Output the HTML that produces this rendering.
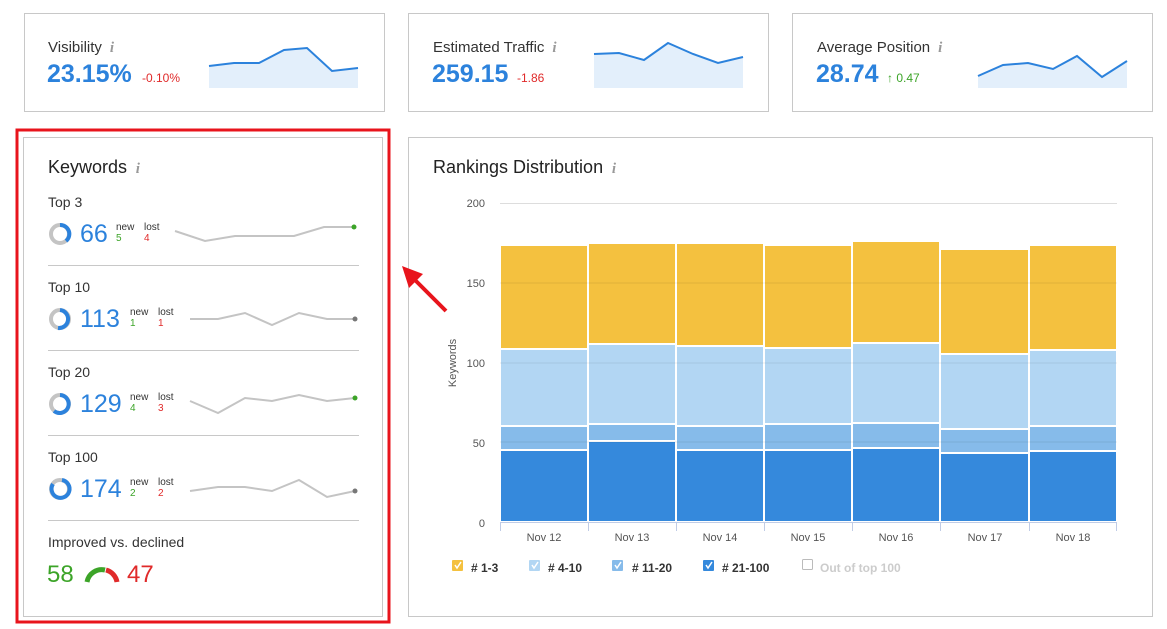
<!DOCTYPE html>
<html><head><meta charset="utf-8"><style>
body{margin:0;width:1167px;height:629px;background:#fff;font-family:"Liberation Sans",sans-serif;position:relative;overflow:hidden;color:#333}
.card{position:absolute;border:1px solid #c8c8c8;background:#fff;box-sizing:border-box}
.abs{position:absolute;white-space:nowrap}
.i{color:#999;font-style:italic;font-family:"Liberation Serif",serif;font-weight:bold;font-size:15px}
</style></head><body>

<div class="card" style="left:24px;top:13px;width:361px;height:99px"></div>
<div class="card" style="left:408px;top:13px;width:361px;height:99px"></div>
<div class="card" style="left:792px;top:13px;width:361px;height:99px"></div>

<div class="abs" style="left:48px;top:39px;font-size:15px">Visibility <span class="i">&nbsp;i</span></div>
<div class="abs" style="left:47px;top:60px;font-size:25px;font-weight:bold;color:#2c82dc">23.15%</div>
<div class="abs" style="left:142px;top:71px;font-size:12px;color:#e02a2a">-0.10%</div>
<div class="abs" style="left:433px;top:39px;font-size:15px">Estimated Traffic <span class="i">&nbsp;i</span></div>
<div class="abs" style="left:432px;top:60px;font-size:25px;font-weight:bold;color:#2c82dc">259.15</div>
<div class="abs" style="left:517px;top:71px;font-size:12px;color:#e02a2a">-1.86</div>
<div class="abs" style="left:817px;top:39px;font-size:15px">Average Position <span class="i">&nbsp;i</span></div>
<div class="abs" style="left:816px;top:60px;font-size:25px;font-weight:bold;color:#2c82dc">28.74</div>
<div class="abs" style="left:887px;top:71px;font-size:12px;color:#3ca428">↑ 0.47</div>

<svg class="abs" style="left:0;top:0" width="1167" height="629">
<g fill="#e3effb" stroke="none">
<path d="M209,66 L234,63 L259,63 L284,50 L307,48 L332,71 L358,68 L358,88 L209,88Z"/>
<path d="M594,54 L619,53 L644,60 L668,43 L693,54 L718,63 L743,57 L743,88 L594,88Z"/>
<path d="M978,76 L1003,65 L1028,63 L1053,69 L1077,56 L1102,77 L1127,61 L1127,88 L978,88Z"/>
</g>
<g fill="none" stroke="#2c82dc" stroke-width="2">
<path d="M209,66 L234,63 L259,63 L284,50 L307,48 L332,71 L358,68"/>
<path d="M594,54 L619,53 L644,60 L668,43 L693,54 L718,63 L743,57"/>
<path d="M978,76 L1003,65 L1028,63 L1053,69 L1077,56 L1102,77 L1127,61"/>
</g>

<rect x="17" y="130" width="372" height="492" fill="none" stroke="#e8141c" stroke-width="3"/>
<rect x="23.5" y="137.5" width="359" height="479" fill="none" stroke="#c8c8c8"/>
<rect x="408.5" y="137.5" width="744" height="479" fill="none" stroke="#c8c8c8"/>

<!-- arrow -->
<line x1="446" y1="311" x2="415" y2="280" stroke="#e8141c" stroke-width="4"/>
<polygon points="402,266 423,274 409,288" fill="#e8141c"/>

<!-- keywords separators -->
<g stroke="#c8c8c8"><line x1="48" y1="265.5" x2="359" y2="265.5"/><line x1="48" y1="350.5" x2="359" y2="350.5"/><line x1="48" y1="435.5" x2="359" y2="435.5"/><line x1="48" y1="520.5" x2="359" y2="520.5"/></g>

<!-- donuts -->
<g fill="none" stroke-width="4">
<circle cx="60" cy="234" r="9" stroke="#c4c4c4"/><path d="M60,225 A9,9 0 0 1 66,241" stroke="#2c82dc"/>
<circle cx="60" cy="319" r="9" stroke="#c4c4c4"/><path d="M60,310 A9,9 0 1 1 58,328" stroke="#2c82dc"/>
<circle cx="60" cy="404" r="9" stroke="#c4c4c4"/><path d="M60,395 A9,9 0 1 1 54,411" stroke="#2c82dc"/>
<circle cx="60" cy="489" r="9" stroke="#c4c4c4"/><path d="M62,480 A9,9 0 1 1 53,484" stroke="#2c82dc"/>
<path d="M87,582 A15,15 0 0 1 105,570" stroke="#3ca428" stroke-width="5"/>
<path d="M106,570 A15,15 0 0 1 117,582" stroke="#e02a2a" stroke-width="5"/>
</g>
<!-- mini lines -->
<g fill="none" stroke="#c4c4c4" stroke-width="2">
<path d="M175,231 L205,241 L235,236 L264,236 L294,236 L324,227 L354,227"/>
<path d="M190,319 L218,319 L245,313 L272,325 L299,313 L327,319 L355,319"/>
<path d="M190,401 L218,413 L245,398 L272,401 L299,395 L327,401 L355,398"/>
<path d="M190,491 L218,487 L245,487 L272,491 L299,480 L327,497 L355,491"/>
</g>
<circle cx="354" cy="227" r="2.5" fill="#3ca428"/>
<circle cx="355" cy="319" r="2.5" fill="#777"/>
<circle cx="355" cy="398" r="2.5" fill="#3ca428"/>
<circle cx="355" cy="491" r="2.5" fill="#777"/>

<!-- chart -->
<line x1="500" y1="203.5" x2="1117" y2="203.5" stroke="#ddd"/>
<g stroke="#fff" stroke-width="2">
<g fill="#f4c13f"><rect x="500" y="245" width="88" height="104"/><rect x="588" y="243" width="88" height="101"/><rect x="676" y="243" width="88" height="103"/><rect x="764" y="245" width="88" height="103"/><rect x="852" y="241" width="88" height="102"/><rect x="940" y="249" width="89" height="105"/><rect x="1029" y="245" width="88" height="105"/></g>
<g fill="#b2d6f3"><rect x="500" y="349" width="88" height="77"/><rect x="588" y="344" width="88" height="80"/><rect x="676" y="346" width="88" height="80"/><rect x="764" y="348" width="88" height="76"/><rect x="852" y="343" width="88" height="80"/><rect x="940" y="354" width="89" height="75"/><rect x="1029" y="350" width="88" height="76"/></g>
<g fill="#86bbea"><rect x="500" y="426" width="88" height="24"/><rect x="588" y="424" width="88" height="17"/><rect x="676" y="426" width="88" height="24"/><rect x="764" y="424" width="88" height="26"/><rect x="852" y="423" width="88" height="25"/><rect x="940" y="429" width="89" height="24"/><rect x="1029" y="426" width="88" height="25"/></g>
<g fill="#3589dc"><rect x="500" y="450" width="88" height="72"/><rect x="588" y="441" width="88" height="81"/><rect x="676" y="450" width="88" height="72"/><rect x="764" y="450" width="88" height="72"/><rect x="852" y="448" width="88" height="74"/><rect x="940" y="453" width="89" height="69"/><rect x="1029" y="451" width="88" height="71"/></g>
</g>
<g stroke="#000" stroke-opacity="0.08"><line x1="500" y1="283" x2="1117" y2="283"/><line x1="500" y1="363" x2="1117" y2="363"/><line x1="500" y1="442" x2="1117" y2="442"/></g>
<g stroke="#c0cce6"><line x1="500" y1="522.5" x2="1117" y2="522.5"/>
<line x1="500.5" y1="522" x2="500.5" y2="531"/><line x1="588.5" y1="522" x2="588.5" y2="531"/><line x1="676.5" y1="522" x2="676.5" y2="531"/><line x1="764.5" y1="522" x2="764.5" y2="531"/><line x1="852.5" y1="522" x2="852.5" y2="531"/><line x1="940.5" y1="522" x2="940.5" y2="531"/><line x1="1029.5" y1="522" x2="1029.5" y2="531"/><line x1="1116.5" y1="522" x2="1116.5" y2="531"/></g>
<g font-size="11" fill="#555" text-anchor="end" font-family="Liberation Sans,sans-serif">
<text x="485" y="207">200</text><text x="485" y="287">150</text><text x="485" y="367">100</text><text x="485" y="447">50</text><text x="485" y="527">0</text></g>
<g font-size="11" fill="#555" text-anchor="middle" font-family="Liberation Sans,sans-serif">
<text x="544" y="541">Nov 12</text><text x="632" y="541">Nov 13</text><text x="720" y="541">Nov 14</text><text x="808" y="541">Nov 15</text><text x="896" y="541">Nov 16</text><text x="985" y="541">Nov 17</text><text x="1073" y="541">Nov 18</text></g>
<text transform="translate(456,363) rotate(-90)" font-size="11" fill="#555" text-anchor="middle" font-family="Liberation Sans,sans-serif">Keywords</text>
<!-- legend -->
<g font-size="12" font-weight="bold" fill="#333" font-family="Liberation Sans,sans-serif">
<rect x="452" y="560" width="11" height="11" rx="1" fill="#f4c13f"/><text x="471" y="572">#  1-3</text>
<rect x="529" y="560" width="11" height="11" rx="1" fill="#b2d6f3"/><text x="548" y="572"># 4-10</text>
<rect x="612" y="560" width="11" height="11" rx="1" fill="#86bbea"/><text x="632" y="572"># 11-20</text>
<rect x="703" y="560" width="11" height="11" rx="1" fill="#3589dc"/><text x="722" y="572"># 21-100</text>
<rect x="802.5" y="559.5" width="10" height="10" rx="1" fill="none" stroke="#bbb"/><text x="820" y="572" fill="#ccc">Out of top 100</text>
</g>
<g fill="none" stroke="#fff" stroke-width="1.5"><path d="M455,565 L457,568 L461,562"/><path d="M532,565 L534,568 L538,562"/><path d="M615,565 L617,568 L621,562"/><path d="M706,565 L708,568 L712,562"/></g>
</svg>

<div class="abs" style="left:48px;top:157px;font-size:18px;color:#222">Keywords <span class="i">&nbsp;i</span></div>
<div class="abs" style="left:433px;top:157px;font-size:18px;color:#222">Rankings Distribution <span class="i">&nbsp;i</span></div>

<div class="abs" style="left:48px;top:194px;font-size:14px">Top 3</div>
<div class="abs" style="left:80px;top:220px;font-size:25px;color:#2c82dc">66</div>
<div class="abs" style="left:116px;top:222px;font-size:10px;line-height:11px">new<br><span style="color:#3ca428">5</span></div>
<div class="abs" style="left:144px;top:222px;font-size:10px;line-height:11px">lost<br><span style="color:#e02a2a">4</span></div>

<div class="abs" style="left:48px;top:279px;font-size:14px">Top 10</div>
<div class="abs" style="left:80px;top:305px;font-size:25px;color:#2c82dc">113</div>
<div class="abs" style="left:130px;top:307px;font-size:10px;line-height:11px">new<br><span style="color:#3ca428">1</span></div>
<div class="abs" style="left:158px;top:307px;font-size:10px;line-height:11px">lost<br><span style="color:#e02a2a">1</span></div>

<div class="abs" style="left:48px;top:364px;font-size:14px">Top 20</div>
<div class="abs" style="left:80px;top:390px;font-size:25px;color:#2c82dc">129</div>
<div class="abs" style="left:130px;top:392px;font-size:10px;line-height:11px">new<br><span style="color:#3ca428">4</span></div>
<div class="abs" style="left:158px;top:392px;font-size:10px;line-height:11px">lost<br><span style="color:#e02a2a">3</span></div>

<div class="abs" style="left:48px;top:449px;font-size:14px">Top 100</div>
<div class="abs" style="left:80px;top:475px;font-size:25px;color:#2c82dc">174</div>
<div class="abs" style="left:130px;top:477px;font-size:10px;line-height:11px">new<br><span style="color:#3ca428">2</span></div>
<div class="abs" style="left:158px;top:477px;font-size:10px;line-height:11px">lost<br><span style="color:#e02a2a">2</span></div>

<div class="abs" style="left:48px;top:534px;font-size:14px">Improved vs. declined</div>
<div class="abs" style="left:47px;top:561px;font-size:24px;color:#3ca428">58</div>
<div class="abs" style="left:127px;top:561px;font-size:24px;color:#e02a2a">47</div>
</body></html>
